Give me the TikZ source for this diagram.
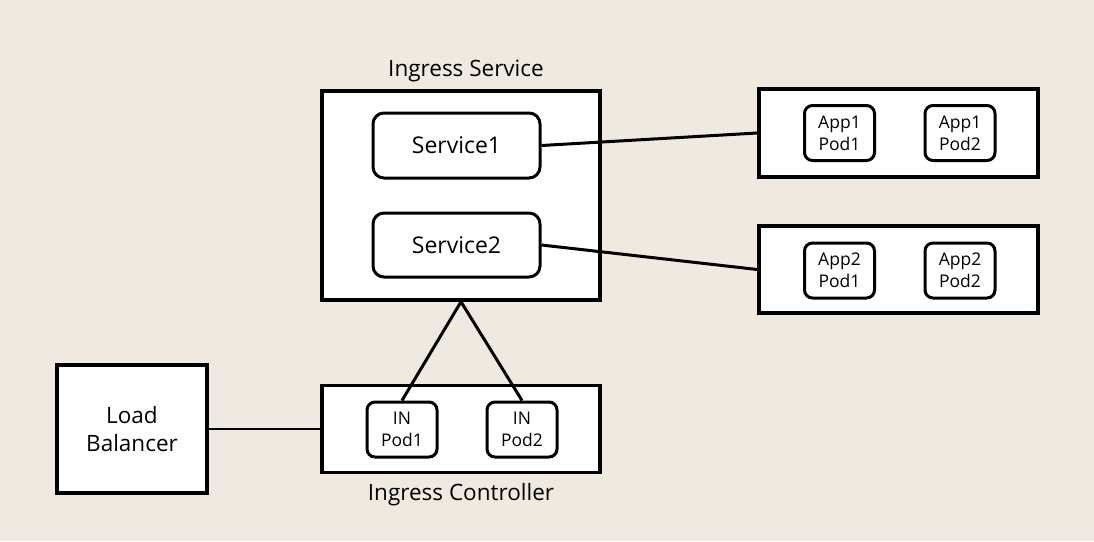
\documentclass[tikz,border=0pt]{standalone}
\usepackage{fontspec}
\setmainfont{Open Sans}
\definecolor{bg}{RGB}{240,233,224}
\begin{document}
\begin{tikzpicture}[x=1pt,y=-1pt,
  box/.style={draw, line width=3.5pt, fill=white, inner sep=0pt, align=center},
  rbox/.style={draw, line width=3pt, fill=white, rounded corners=11pt, inner sep=0pt, align=center},
  pod/.style={draw, line width=3pt, fill=white, rounded corners=8pt, inner sep=0pt, align=center,
    minimum width=70pt, minimum height=55pt, font=\fontsize{17.5}{22}\selectfont},
  lbl/.style={font=\fontsize{22.5}{26}\selectfont},
  slbl/.style={font=\fontsize{23}{26}\selectfont},
  link/.style={line width=3pt}]
\fill[bg] (0,0) rectangle (1094,541);
\useasboundingbox (0,0) rectangle (1094,541);
% Ingress service
\node[box, minimum width=278pt, minimum height=209pt] (ing) at (461,195.5) {};
\node[lbl] (ingl) at (466,71) {Ingress Service};
\node[rbox, minimum width=167pt, minimum height=65pt, slbl] (s1) at (456.5,145.5) {Service1};
\node[rbox, minimum width=167pt, minimum height=64pt, slbl] (s2) at (456.5,245) {Service2};
% App boxes
\node[box, minimum width=279pt, minimum height=88pt] (app1) at (898.5,133) {};
\node[pod] (a11) at (839.5,133) {App1\\Pod1};
\node[pod] (a12) at (960,133) {App1\\Pod2};
\node[box, minimum width=279pt, minimum height=87pt] (app2) at (898.5,269.5) {};
\node[pod] (a21) at (839.5,270.5) {App2\\Pod1};
\node[pod] (a22) at (960,270.5) {App2\\Pod2};
% Load balancer and controller
\node[box, minimum width=150pt, minimum height=128pt, font=\fontsize{22.5}{28}\selectfont] (lb) at (132,429) {Load\\Balancer};
\node[box, minimum width=278pt, minimum height=87pt] (ctrl) at (461,429) {};
\node[lbl] (ctrll) at (461,495) {Ingress Controller};
\node[pod] (in1) at (402,429.5) {IN\\Pod1};
\node[pod] (in2) at (522,429.5) {IN\\Pod2};
% links
\draw[link] (s1.east) -- (app1.west);
\draw[link] (s2.east) -- (app2.west);
\draw[link] (in1.north) -- (ing.south) -- (in2.north);
\draw[link, line width=2.5pt] (lb.east) -- (ctrl.west);
\end{tikzpicture}
\end{document}
